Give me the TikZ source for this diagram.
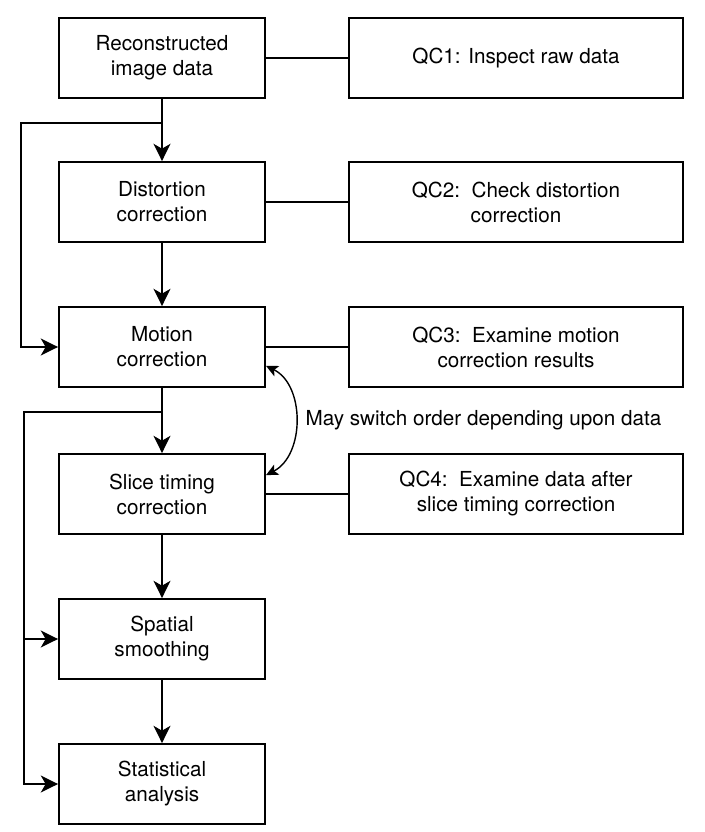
\documentclass[tikz,border=0pt]{standalone}
\usepackage{fontspec}
\setmainfont{TeX Gyre Heros}
\usepackage{tikz}
\usetikzlibrary{shapes,arrows.meta}

\begin{document}
\begin{tikzpicture}[x=0.025cm,y=-0.025cm,line width=1.3pt,font=\fontsize{14.7}{17.8}\selectfont]

\useasboundingbox (0,0) rectangle (704,832);

  \tikzset{step box/.style={draw, rectangle, align=center, minimum width=5.15cm, minimum height=2cm, inner sep=0pt}}
  \tikzset{qc box/.style={draw, rectangle, align=center, minimum width=8.33cm, minimum height=2cm, inner sep=0pt}}
  \tikzset{flow/.style={-{Stealth[length=4.3mm,width=4.2mm,inset=1.2mm]}}}
  \tikzset{swap/.style={line width=1pt,{Stealth[length=3mm,width=2.8mm,inset=0.7mm]}-{Stealth[length=3mm,width=2.8mm,inset=0.7mm]}}}

% processing steps
\node[step box] (rec) at (162,58) {Reconstructed\\image data};
\node[step box] (dis) at (162,202) {Distortion\\correction};
\node[step box] (mot) at (162,347) {Motion\\correction};
\node[step box] (sli) at (162,494) {Slice timing\\correction};
\node[step box] (spa) at (162,639) {Spatial\\smoothing};
\node[step box] (sta) at (162,784) {Statistical\\analysis};

% quality checks
\node[qc box] (qa) at (516,58) {QC1: Inspect raw data};
\node[qc box] (qb) at (516,202) {QC2:\ \ Check distortion\\correction};
\node[qc box] (qc) at (516,347) {QC3:\ \ Examine motion\\correction results};
\node[qc box] (qd) at (516,494) {QC4:\ \ Examine data after\\slice timing correction};

\coordinate (ba) at (162,123);
\coordinate (bb) at (21,123);
\coordinate (ca) at (162,412);
\coordinate (cb) at (24,412);
\coordinate (sa) at ([yshift=-0.47cm]mot.east);
\coordinate (sb) at ([yshift=0.47cm]sli.east);

\draw[] (rec) -- (qa);
\draw[] (dis) -- (qb);
\draw[] (mot) -- (qc);
\draw[] (sli) -- (qd);

\draw[flow] (rec.south) -- (dis.north);
\draw[flow] (dis.south) -- (mot.north);
\draw[flow] (mot.south) -- (sli.north);
\draw[flow] (sli.south) -- (spa.north);
\draw[flow] (spa.south) -- (sta.north);

\draw[flow] (ba) -- (bb) |- (mot.west);
\draw[flow] (ca) -- (cb) |- (sta.west);
\draw[flow] (cb |- spa.west) -- (spa.west);

\draw[swap] (sa) .. controls (305,385) and (305,455) .. (sb);
\node[anchor=west] (note) at (300,420) {May switch order depending upon data};

\end{tikzpicture}
\end{document}
